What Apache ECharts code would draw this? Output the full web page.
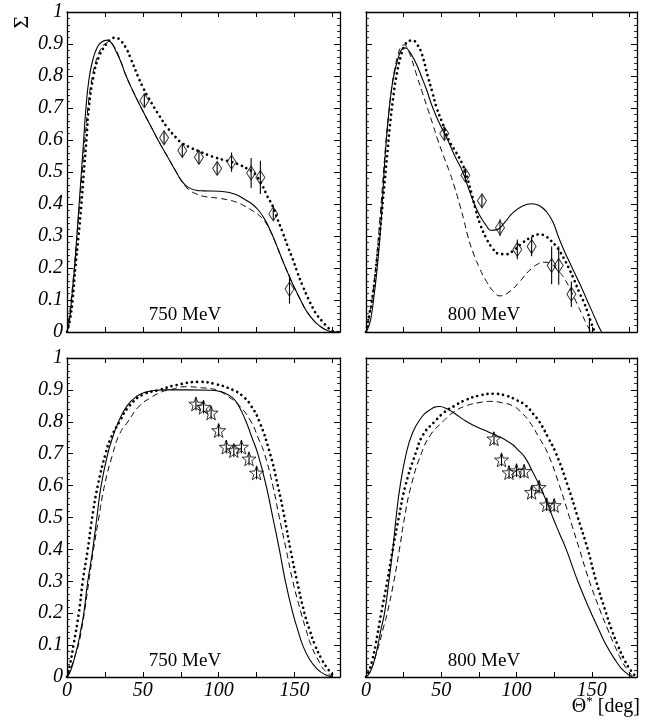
<!DOCTYPE html>
<html>
<head>
<meta charset="utf-8">
<style>html,body{margin:0;padding:0;background:#fff;}#c{width:646px;height:727px;}</style>
<script src="https://cdn.jsdelivr.net/npm/echarts@6/dist/echarts.min.js"></script>
</head>
<body>
<div id="c"></div>
<script>
// ---------- data (angle in deg, Sigma) ----------
// top-left: diamonds, 750 MeV
const tlSolid = [[0,0],[1,0.02],[2,0.05],[3,0.1],[4,0.15],[5,0.2],[6.5,0.3],[8,0.4],[9.5,0.5],[11,0.6],[12.5,0.7],[14.5,0.79],[17,0.85],[20,0.89],[23,0.907],[26.5,0.912],[29,0.905],[32,0.88],[35,0.85],[39,0.8],[44,0.748],[49,0.7],[54.5,0.65],[60,0.6],[66,0.55],[72,0.5],[76,0.47],[80,0.452],[85,0.443],[90,0.441],[100,0.44],[107,0.436],[112,0.428],[117,0.415],[122,0.4],[126,0.382],[130,0.355],[134,0.318],[138,0.273],[142,0.225],[146,0.18],[150,0.138],[154,0.1],[158,0.065],[163,0.034],[168,0.014],[172,0.004],[176,0],[180,0]];
const tlDashed = [[0,0],[1,0.03],[2,0.07],[4,0.16],[6,0.27],[8,0.38],[10,0.5],[12,0.61],[14,0.71],[16,0.78],[19,0.845],[22,0.882],[25,0.9],[28,0.905],[31,0.893],[35,0.852],[39,0.8],[44,0.748],[49,0.7],[54.5,0.65],[60,0.6],[66,0.55],[72,0.5],[76,0.468],[80,0.446],[85,0.432],[90,0.424],[100,0.418],[107,0.412],[112,0.405],[117,0.394],[122,0.38],[126,0.367],[130,0.348],[134,0.316],[138,0.273],[142,0.225],[146,0.18],[150,0.138],[154,0.1],[158,0.065],[163,0.034],[168,0.014],[172,0.004],[176,0],[180,0]];
const tlDotted = [[0,0],[2,0.04],[3.7,0.1],[5.5,0.2],[7.6,0.3],[9.5,0.4],[11.1,0.5],[12.8,0.6],[14.4,0.7],[17.5,0.8],[21,0.86],[25.9,0.9],[29,0.915],[32,0.92],[35,0.912],[38.6,0.89],[42,0.855],[46.7,0.8],[50,0.765],[54,0.73],[57.7,0.7],[61,0.675],[66,0.64],[72,0.607],[76,0.59],[82,0.575],[87,0.565],[93,0.553],[98,0.545],[103,0.538],[108,0.532],[114,0.522],[119,0.51],[122,0.502],[125,0.488],[129,0.456],[132,0.425],[135.7,0.393],[139,0.35],[142.3,0.31],[145.5,0.268],[148.9,0.227],[152,0.185],[155.5,0.143],[159,0.105],[162,0.076],[165,0.052],[168.6,0.032],[172,0.014],[175,0.003],[178,0],[180,0]];
const tlPtsX = [51,64,76,87,99,108.5,121.4,127.5,136,146.7];
const tlPtsY = [0.723,0.607,0.567,0.546,0.511,0.531,0.497,0.483,0.369,0.134];
const tlPtsErr = [0.02,0.02,0.02,0.02,0.02,0.03,0.047,0.052,0.02,0.045];

// top-right: diamonds, 800 MeV
const trSolid = [[0,0],[2,0.02],[3.5,0.05],[5,0.1],[7,0.18],[9,0.28],[10.5,0.38],[12,0.5],[13.5,0.6],[15.5,0.7],[18,0.79],[21,0.85],[24,0.885],[26,0.888],[28,0.882],[31,0.86],[34,0.832],[36.7,0.8],[40,0.76],[44.4,0.7],[49,0.65],[54.3,0.6],[59,0.55],[64.3,0.5],[68,0.45],[72,0.4],[76,0.36],[80,0.332],[83,0.318],[87,0.32],[92,0.342],[97.5,0.372],[104,0.394],[110,0.401],[115,0.395],[120,0.375],[124,0.345],[128,0.295],[132,0.25],[136,0.21],[140,0.17],[144,0.13],[148,0.087],[152,0.045],[154.5,0.018],[156.5,0]];
const trDashed = [[0,0],[1.5,0.03],[3,0.07],[5,0.14],[7,0.23],[9,0.34],[11,0.46],[13,0.58],[15,0.68],[17,0.76],[19,0.82],[21,0.862],[23.5,0.893],[25.5,0.897],[28,0.88],[30.5,0.85],[33.8,0.8],[37.3,0.75],[40.8,0.7],[44.3,0.65],[47.7,0.6],[51.5,0.55],[55.5,0.5],[59,0.45],[62.1,0.4],[65,0.35],[67.6,0.3],[71,0.25],[75.4,0.2],[80,0.158],[85,0.125],[89,0.113],[95,0.125],[102,0.157],[108,0.19],[114,0.212],[118.6,0.218],[123,0.212],[128,0.19],[132,0.165],[136,0.13],[140,0.09],[143.5,0.055],[146.5,0.025],[149.5,0]];
const trDotted = [[0,0],[2,0.05],[4,0.1],[6,0.17],[8,0.26],[10,0.35],[12,0.45],[14,0.55],[16,0.65],[18,0.73],[20,0.795],[23,0.86],[26,0.898],[29,0.91],[31,0.911],[34,0.898],[37,0.87],[41,0.8],[44,0.75],[47,0.7],[51,0.65],[55,0.6],[60,0.56],[64,0.525],[67,0.485],[70,0.435],[73,0.38],[76,0.335],[80,0.292],[84,0.262],[88,0.245],[93,0.243],[98,0.255],[103,0.275],[108,0.292],[112,0.302],[115.3,0.305],[119,0.3],[123,0.285],[126,0.27],[129,0.25],[132,0.225],[135.2,0.195],[138.5,0.16],[141.8,0.122],[145,0.09],[147.3,0.06],[149.5,0.03],[151.5,0.005],[152,0]];
const trPtsX = [52,66,77,89,100.5,110,123.3,128,136.4,148.4];
const trPtsY = [0.62,0.49,0.41,0.326,0.258,0.267,0.208,0.208,0.118,-0.02];
const trPtsErr = [0.02,0.02,0.02,0.026,0.031,0.03,0.059,0.06,0.04,0.064];

// bottom-left: stars, 750 MeV
const blSolid = [[0,0],[2,0.015],[4.4,0.05],[7.1,0.1],[9.2,0.15],[11.1,0.2],[13.7,0.3],[15.4,0.35],[17,0.4],[19.7,0.5],[22.5,0.6],[26.9,0.7],[30,0.75],[34,0.8],[39.6,0.85],[46,0.88],[52,0.893],[58.8,0.899],[65,0.9],[80,0.9],[95,0.899],[100,0.896],[104,0.89],[109.3,0.875],[113,0.852],[118.1,0.8],[122,0.75],[125.8,0.7],[131.3,0.6],[135.7,0.5],[140,0.4],[144,0.3],[148.9,0.2],[152,0.15],[155.4,0.1],[160,0.055],[165,0.025],[170,0.008],[175,0]];
const blDashed = [[0,0],[2,0.02],[4.5,0.055],[7.5,0.1],[10,0.16],[12,0.22],[14.4,0.3],[17.5,0.4],[21,0.5],[24.7,0.6],[30.2,0.7],[34.5,0.76],[40.1,0.8],[47.8,0.85],[55,0.875],[62,0.893],[67.6,0.9],[78.6,0.91],[88,0.907],[98.4,0.9],[106,0.88],[113.7,0.85],[121.4,0.8],[126,0.75],[130.2,0.7],[135.7,0.6],[140,0.5],[144.5,0.4],[148.9,0.3],[154.4,0.2],[157.5,0.15],[160.9,0.1],[166,0.05],[170,0.02],[175,0]];
const blDotted = [[0,0],[2,0.04],[4.3,0.1],[7.8,0.2],[10.4,0.3],[13.7,0.4],[16.6,0.5],[20.3,0.6],[25.4,0.7],[29,0.75],[34.6,0.8],[41.2,0.85],[50,0.885],[61,0.9],[72,0.915],[87.3,0.925],[98,0.918],[109.3,0.9],[116,0.88],[121.4,0.85],[126.9,0.8],[133.9,0.7],[139,0.6],[143.4,0.5],[147.3,0.4],[151.7,0.3],[156.6,0.2],[159.8,0.15],[163.5,0.1],[168,0.055],[172,0.025],[176.3,0]];
const blPtsX = [85,90,95,100,105,110,115,120,125];
const blPtsY = [0.856,0.846,0.828,0.773,0.721,0.71,0.721,0.684,0.64];
const blPtsErr = [0.02,0.02,0.02,0.02,0.02,0.02,0.02,0.02,0.02];

// bottom-right: stars, 800 MeV
const brSolid = [[0,0],[2,0.01],[4,0.03],[6,0.06],[7.9,0.1],[10,0.15],[12.3,0.2],[15.2,0.3],[17.8,0.4],[20,0.5],[22.7,0.6],[26.7,0.7],[30.5,0.76],[35.5,0.805],[42,0.836],[48.8,0.848],[54,0.84],[59.9,0.823],[65,0.806],[70.9,0.79],[78,0.775],[85.3,0.76],[92,0.745],[97.5,0.728],[101,0.712],[105.3,0.69],[110,0.65],[115.2,0.6],[120,0.55],[124.1,0.5],[128.5,0.45],[133,0.4],[136.8,0.35],[140.7,0.3],[145,0.25],[149.6,0.2],[154.5,0.15],[159.5,0.1],[166,0.05],[171,0.02],[177,0]];
const brDashed = [[0,0],[2,0.01],[4,0.03],[6,0.06],[8.6,0.1],[11.3,0.15],[14.1,0.2],[18.5,0.3],[22.2,0.4],[25.6,0.5],[30,0.6],[36.7,0.7],[43,0.76],[51,0.8],[58,0.83],[66.5,0.85],[75,0.86],[83.1,0.864],[90,0.86],[97.5,0.85],[103,0.83],[108.6,0.8],[115,0.75],[120.8,0.7],[128.5,0.6],[135.2,0.5],[141.8,0.4],[148.4,0.3],[156.2,0.2],[160.5,0.15],[165,0.1],[170,0.05],[174,0.02],[177.5,0]];
const brDotted = [[0,0],[2,0.02],[4,0.05],[6.3,0.1],[10.1,0.2],[14.1,0.3],[17.8,0.4],[21.8,0.5],[26.2,0.6],[32.9,0.7],[38,0.76],[45.5,0.8],[52,0.83],[58.8,0.85],[66,0.868],[75,0.882],[84.7,0.888],[93,0.882],[100,0.868],[106.4,0.85],[111,0.825],[115.2,0.8],[121,0.75],[126.3,0.7],[134,0.6],[140.7,0.5],[147.3,0.4],[152.9,0.3],[159.5,0.2],[163,0.15],[167.2,0.1],[172,0.05],[176,0.02],[179.5,0]];
const brPtsX = [85,90,95,100,105,110,115,120,125];
const brPtsY = [0.747,0.681,0.641,0.647,0.645,0.579,0.595,0.54,0.538];
const brPtsErr = [0.02,0.02,0.02,0.02,0.02,0.02,0.02,0.02,0.02];

const panelLabels = ['750 MeV','800 MeV','750 MeV','800 MeV'];
const xTickLabels = [0,50,100,150];
// ---------------------------------------------------------

const serif = 'Liberation Serif';
const italicRich = {i:{fontFamily:serif, fontStyle:'italic', fontSize:20, color:'#000'}};
const panels = [
  {solid:tlSolid, dashed:tlDashed, dotted:tlDotted, px:tlPtsX, py:tlPtsY, pe:tlPtsErr, sym:'diamond'},
  {solid:trSolid, dashed:trDashed, dotted:trDotted, px:trPtsX, py:trPtsY, pe:trPtsErr, sym:'diamond'},
  {solid:blSolid, dashed:blDashed, dotted:blDotted, px:blPtsX, py:blPtsY, pe:blPtsErr, sym:'star'},
  {solid:brSolid, dashed:brDashed, dotted:brDotted, px:brPtsX, py:brPtsY, pe:brPtsErr, sym:'star'}
];
const grids = [
  {left:67, top:12, width:273, height:320},
  {left:366, top:12, width:271, height:320},
  {left:67, top:358, width:273, height:319},
  {left:366, top:358, width:271, height:319}
];
const starPath = 'path://M0,-10L2.35,-3.24L9.51,-3.09L3.8,1.24L5.88,8.09L0,4L-5.88,8.09L-3.8,1.24L-9.51,-3.09L-2.35,-3.24Z';
const frameLine = {show:true, onZero:false, lineStyle:{color:'#000', width:1.3}};

const xAxes = [], yAxes = [], series = [];
grids.forEach((g, i) => {
  const showX = i >= 2, showY = i % 2 === 0;
  ['bottom','top'].forEach((pos, k) => {
    xAxes.push({
      type:'value', gridIndex:i, position:pos, min:0, max:180, interval:25,
      axisLine:frameLine,
      axisTick:{show:true, inside:true, length:5, lineStyle:{color:'#000', width:1}},
      minorTick:{show:false},
      splitLine:{show:false},
      axisLabel:{show: showX && k === 0, margin:4, color:'#000', fontFamily:serif, fontStyle:'italic', fontSize:20, rich:italicRich,
        formatter: v => xTickLabels.indexOf(v) >= 0 ? '{i|' + v + '}' : ''}
    });
  });
  ['left','right'].forEach((pos, k) => {
    yAxes.push({
      type:'value', gridIndex:i, position:pos, min:0, max:1, interval:0.1,
      axisLine:frameLine,
      axisTick:{show:true, inside:true, length:6, lineStyle:{color:'#000', width:1}},
      minorTick:{show:true, splitNumber:5, length:3, lineStyle:{color:'#000', width:0.8}},
      splitLine:{show:false},
      axisLabel:{show: showY && k === 0, margin:4, color:'#000', fontFamily:serif, fontStyle:'italic', fontSize:20, rich:italicRich,
        formatter: v => '{i|' + (v === 0 ? '0' : (Math.abs(v-1) < 1e-9 ? '1' : v.toFixed(1))) + '}'}
    });
  });
  const p = panels[i];
  const common = {type:'line', xAxisIndex:2*i, yAxisIndex:2*i, showSymbol:false, smooth:0.5, silent:true, clip:true};
  series.push(Object.assign({}, common, {data:p.solid, lineStyle:{color:'#000', width:1.1}}));
  series.push(Object.assign({}, common, {data:p.dashed, lineStyle:{color:'#000', width:1, type:[6,4]}}));
  series.push(Object.assign({}, common, {data:p.dotted, lineStyle:{color:'#000', width:2.7, type:[0.01,5.2], cap:'round'}}));
  series.push({
    type:'custom', xAxisIndex:2*i, yAxisIndex:2*i, clip:true, silent:true,
    data: p.px.map((x, j) => [x, p.py[j], p.pe[j]]),
    renderItem: (params, api) => {
      const x = api.value(0), y = api.value(1), e = api.value(2);
      const a = api.coord([x, y + e]), b = api.coord([x, y - e]);
      return {type:'line', shape:{x1:a[0], y1:a[1], x2:b[0], y2:b[1]}, style:{stroke:'#000', lineWidth:1.1}};
    }
  });
  series.push({
    type:'scatter', xAxisIndex:2*i, yAxisIndex:2*i, clip:true, silent:true,
    symbol: p.sym === 'star' ? starPath : 'diamond',
    symbolSize: p.sym === 'star' ? 14 : [9,14],
    itemStyle:{color:'rgba(0,0,0,0)', borderColor:'#000', borderWidth:1},
    data: p.px.map((x, j) => [x, p.py[j]])
  });
});

const labelPos = [[185,315],[484,315],[185,661],[484,661]];
const graphics = panelLabels.map((t, i) => ({
  type:'text', x:labelPos[i][0], y:labelPos[i][1],
  style:{text:t, align:'center', verticalAlign:'middle', fontFamily:serif, fontSize:19, fill:'#000'}
}));
graphics.push({
  type:'text', x:22, y:22, rotation:Math.PI/2,
  style:{text:'Σ', align:'center', verticalAlign:'middle', fontFamily:serif, fontSize:22, fill:'#000'}
});
graphics.push({
  type:'text', x:640, y:707,
  style:{text:'{a|Θ}{s|*}{a| [deg]}', align:'right', verticalAlign:'middle', fill:'#000',
    rich:{a:{fontFamily:serif, fontSize:20, fill:'#000'}, s:{fontFamily:serif, fontSize:13, fill:'#000', verticalAlign:'top', padding:[0,0,10,0]}}}
});

const chart = echarts.init(document.getElementById('c'), null, {renderer:'canvas'});
chart.setOption({
  animation:false,
  backgroundColor:'#fff',
  grid: grids,
  xAxis: xAxes,
  yAxis: yAxes,
  series: series,
  graphic: graphics
});
</script>
</body>
</html>
